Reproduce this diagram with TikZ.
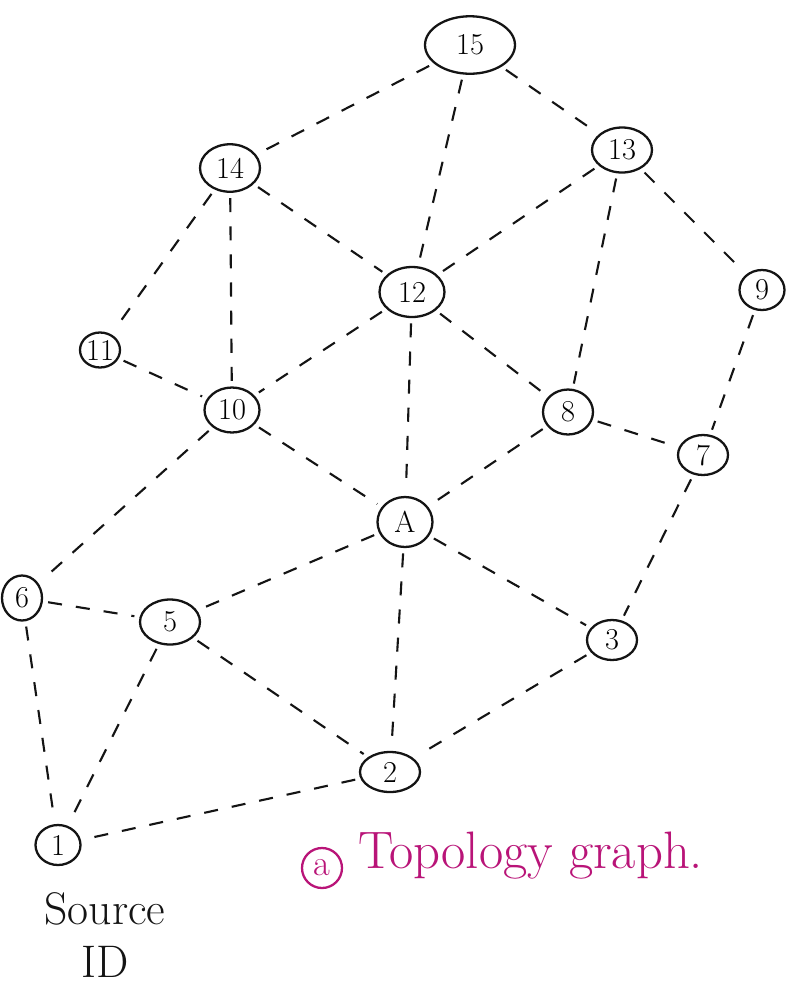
\documentclass[tikz,border=0pt]{standalone}
\usetikzlibrary{shapes.geometric,positioning}
\definecolor{ink}{RGB}{20,20,20}
\definecolor{pinkink}{RGB}{185,20,120}
\begin{document}
\begin{tikzpicture}[x=0.02cm,y=-0.02cm,
  vert/.style={ellipse,draw=ink,line width=1.3pt,inner sep=0pt,font=\LARGE},
  link/.style={draw=ink,line width=1.2pt,dash pattern=on 8pt off 8pt,shorten >=3pt,shorten <=3pt}]
\useasboundingbox[fill=white] (0,0) rectangle (794,995);
\node[vert,minimum width=1.8cm,minimum height=1.15cm] (n15) at (470,45) {15};
\node[vert,minimum width=1.2cm,minimum height=0.95cm] (n14) at (230,168) {14};
\node[vert,minimum width=1.2cm,minimum height=0.9cm] (n13) at (622,150) {13};
\node[vert,minimum width=1.3cm,minimum height=1.0cm] (n12) at (412,292) {12};
\node[vert,minimum width=0.9cm,minimum height=0.8cm] (n9) at (762,290) {9};
\node[vert,minimum width=0.8cm,minimum height=0.7cm] (n11) at (100,350) {11};
\node[vert,minimum width=1.1cm,minimum height=0.9cm] (n10) at (232,410) {10};
\node[vert,minimum width=1.0cm,minimum height=0.9cm] (n8) at (568,412) {8};
\node[vert,minimum width=1.0cm,minimum height=0.8cm] (n7) at (703,455) {7};
\node[vert,minimum width=1.1cm,minimum height=1.0cm] (nA) at (405,522) {A};
\node[vert,minimum width=0.8cm,minimum height=0.9cm] (n6) at (22,598) {6};
\node[vert,minimum width=1.2cm,minimum height=0.9cm] (n5) at (170,622) {5};
\node[vert,minimum width=1.0cm,minimum height=0.8cm] (n3) at (612,640) {3};
\node[vert,minimum width=1.2cm,minimum height=0.8cm] (n2) at (390,772) {2};
\node[vert,minimum width=0.9cm,minimum height=0.8cm] (n1) at (58,845) {1};
\foreach \a/\b in {n15/n14,n15/n12,n15/n13,n14/n12,n14/n10,n14/n11,n13/n12,n13/n8,n13/n9,
  n9/n7,n12/n10,n12/nA,n12/n8,n11/n10,n10/nA,n10/n6,n8/n7,n8/nA,n7/n3,nA/n5,nA/n3,nA/n2,
  n6/n5,n6/n1,n5/n1,n5/n2,n3/n2,n2/n1}
  \draw[link] (\a) -- (\b);
\node[circle,draw=pinkink,text=pinkink,line width=1.3pt,inner sep=0pt,minimum size=0.8cm,font=\huge] (circa) at (322,868) {a};
\node[text=pinkink,font=\fontsize{30}{34}\selectfont,anchor=west] (cap) at (352,856) {Topology graph.};
\node[text=ink,font=\fontsize{26}{30}\selectfont,align=center] (src) at (105,935) {Source\\ID};
\end{tikzpicture}
\end{document}
